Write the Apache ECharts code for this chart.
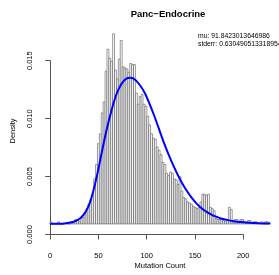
<!DOCTYPE html>
<html>
<head>
<meta charset="utf-8">
<script src="https://cdn.jsdelivr.net/npm/echarts@6/dist/echarts.min.js"></script>
<style>
html, body { margin: 0; padding: 0; background: #fff; }
#main { width: 279px; height: 275px; }
</style>
</head>
<body>
<div id="main"></div>
<script>
// histogram: bins of width 2 starting at 0, density per bin
var binWidth = 2;
var densities = [
    0.0002, 0, 0, 0, 0.0002, 0, 0, 0, 0, 0,
    0, 0.0002, 0.0002, 0.0004, 0.0004, 0.0002, 0.0005, 0.0006, 0.0009, 0.0014,
    0.0018, 0.0022, 0.0026, 0.0041, 0.0054, 0.0073, 0.0082, 0.0101, 0.0111, 0.0139,
    0.0159, 0.0151, 0.0148, 0.0173, 0.0140, 0.0132, 0.0150, 0.0167, 0.0143, 0.0142,
    0.0141, 0.0138, 0.0146, 0.0145, 0.0145, 0.0119, 0.0109, 0.0116, 0.0118, 0.0109,
    0.0107, 0.0098, 0.0090, 0.0082, 0.0078, 0.0077, 0.0070, 0.0067, 0.0063, 0.0056,
    0.0054, 0.0046, 0.0044, 0.0047, 0.0046, 0.0041, 0.0040, 0.0036, 0.0043, 0.0030,
    0.0024, 0.0023, 0.0020, 0.0019, 0.0018, 0.0016, 0.0015, 0.0014, 0.0015, 0.0020,
    0.0027, 0.0027, 0.0026, 0.0027, 0.0015, 0.0014, 0.0012, 0.0005, 0.0004, 0.0004,
    0.0004, 0.0003, 0.0002, 0.0003, 0.0015, 0.0013, 0.0003, 0.0004, 0.0004, 0.0002,
    0.0004, 0.0004, 0.0002, 0.0001, 0.0003, 0.0003, 0.0001, 0.0002, 0.0002, 0.0001,
    0.0001, 0.0002, 0.0001, 0.0002, 0.0002, 0.0001
];

// fitted density curve (blue), read every 5 units
var curveX = [0, 5, 10, 15, 20, 25, 30, 35, 40, 45, 50, 55, 60, 65, 70, 75, 80, 85, 90, 95,
    100, 105, 110, 115, 120, 125, 130, 135, 140, 145, 150, 155, 160, 165, 170, 175, 180,
    185, 190, 195, 200, 210, 220, 232];
var curveY = [0.00001, 0.00001, 0.00002, 0.00005, 0.0001, 0.0002, 0.0004, 0.0008, 0.0015, 0.0028,
    0.0046, 0.0067, 0.0087, 0.0104, 0.0118, 0.0127, 0.0132, 0.0133, 0.0131, 0.0126,
    0.0119, 0.0109, 0.0098, 0.0086, 0.0074, 0.0063, 0.0053, 0.0044, 0.0036, 0.0029,
    0.0023, 0.0018, 0.0014, 0.0011, 0.00085, 0.00066, 0.0005,
    0.0004, 0.0003, 0.00023, 0.00018, 0.0001, 0.00006, 0.00003];

var titleText = 'Panc\u2212Endocrine';
var statsLines = ['mu: 91.8423013646986', 'stderr: 0.630490513318954'];
var xName = 'Mutation Count';
var yName = 'Density';

var histData = densities.map(function (d, i) { return [i * binWidth, d]; });
var curveData = curveX.map(function (x, i) { return [x, curveY[i]]; });

var font = 'Liberation Sans';
var axisColor = '#555';

var myChart = echarts.init(document.getElementById('main'));
var option = {
    animation: false,
    backgroundColor: '#fff',
    textStyle: { fontFamily: font },
    title: [{
        text: titleText,
        left: 163,
        top: 4,
        textAlign: 'center',
        textStyle: { fontSize: 9.5, fontWeight: 'bold', color: '#000', fontFamily: font }
    }, {
        text: statsLines.join('\n'),
        left: 193,
        top: 27,
        textStyle: { fontSize: 6.8, fontWeight: 'normal', color: '#000', lineHeight: 8, fontFamily: font }
    }],
    grid: [
        // data region (R usr)
        { left: 41, right: -4, top: 30, bottom: 32 },
        // axis region (tick range only)
        { left: 50.17, right: 35.85, top: 60.7, bottom: 40.5 }
    ],
    xAxis: [{
        gridIndex: 0, type: 'value', min: -9.5, max: 241.3,
        axisLine: { show: false }, axisTick: { show: false }, axisLabel: { show: false },
        splitLine: { show: false },
        name: xName, nameLocation: 'middle', nameGap: 30,
        nameTextStyle: { fontSize: 7.5, color: '#000', fontFamily: font }
    }, {
        gridIndex: 1, type: 'value', min: 0, max: 200, interval: 50, offset: 8.5,
        axisLine: { show: true, lineStyle: { color: axisColor, width: 1 } },
        axisTick: { show: true, length: 5, lineStyle: { color: axisColor } },
        axisLabel: { fontSize: 7.5, color: '#000', margin: 8.5, fontFamily: font },
        splitLine: { show: false }
    }],
    yAxis: [{
        gridIndex: 0, type: 'value', min: -0.000734, max: 0.017649,
        axisLine: { show: false }, axisTick: { show: false }, axisLabel: { show: false },
        splitLine: { show: false },
        name: yName, nameLocation: 'middle', nameGap: 24,
        nameTextStyle: { fontSize: 7.5, color: '#000', fontFamily: font }
    }, {
        gridIndex: 1, type: 'value', min: 0, max: 0.015, interval: 0.005, offset: 9.2,
        axisLine: { show: true, lineStyle: { color: axisColor, width: 1 } },
        axisTick: { show: true, length: 5, lineStyle: { color: axisColor } },
        axisLabel: {
            fontSize: 7.5, color: '#000', rotate: 90, margin: 7, fontFamily: font,
            formatter: function (v) { return v.toFixed(3); }
        },
        splitLine: { show: false }
    }],
    series: [{
        type: 'custom',
        xAxisIndex: 0,
        yAxisIndex: 0,
        data: histData,
        renderItem: function (params, api) {
            var x0 = api.value(0);
            var h = api.value(1);
            var p0 = api.coord([x0, h]);
            var p1 = api.coord([x0 + binWidth, 0]);
            return {
                type: 'rect',
                shape: { x: p0[0], y: p0[1], width: p1[0] - p0[0], height: p1[1] - p0[1] },
                style: { fill: '#fff', stroke: '#555', lineWidth: 0.6 }
            };
        },
        z: 1
    }, {
        type: 'line',
        xAxisIndex: 0,
        yAxisIndex: 0,
        data: curveData,
        smooth: 0.3,
        showSymbol: false,
        lineStyle: { color: '#0000ff', width: 2 },
        z: 3
    }]
};
myChart.setOption(option);
</script>
</body>
</html>
